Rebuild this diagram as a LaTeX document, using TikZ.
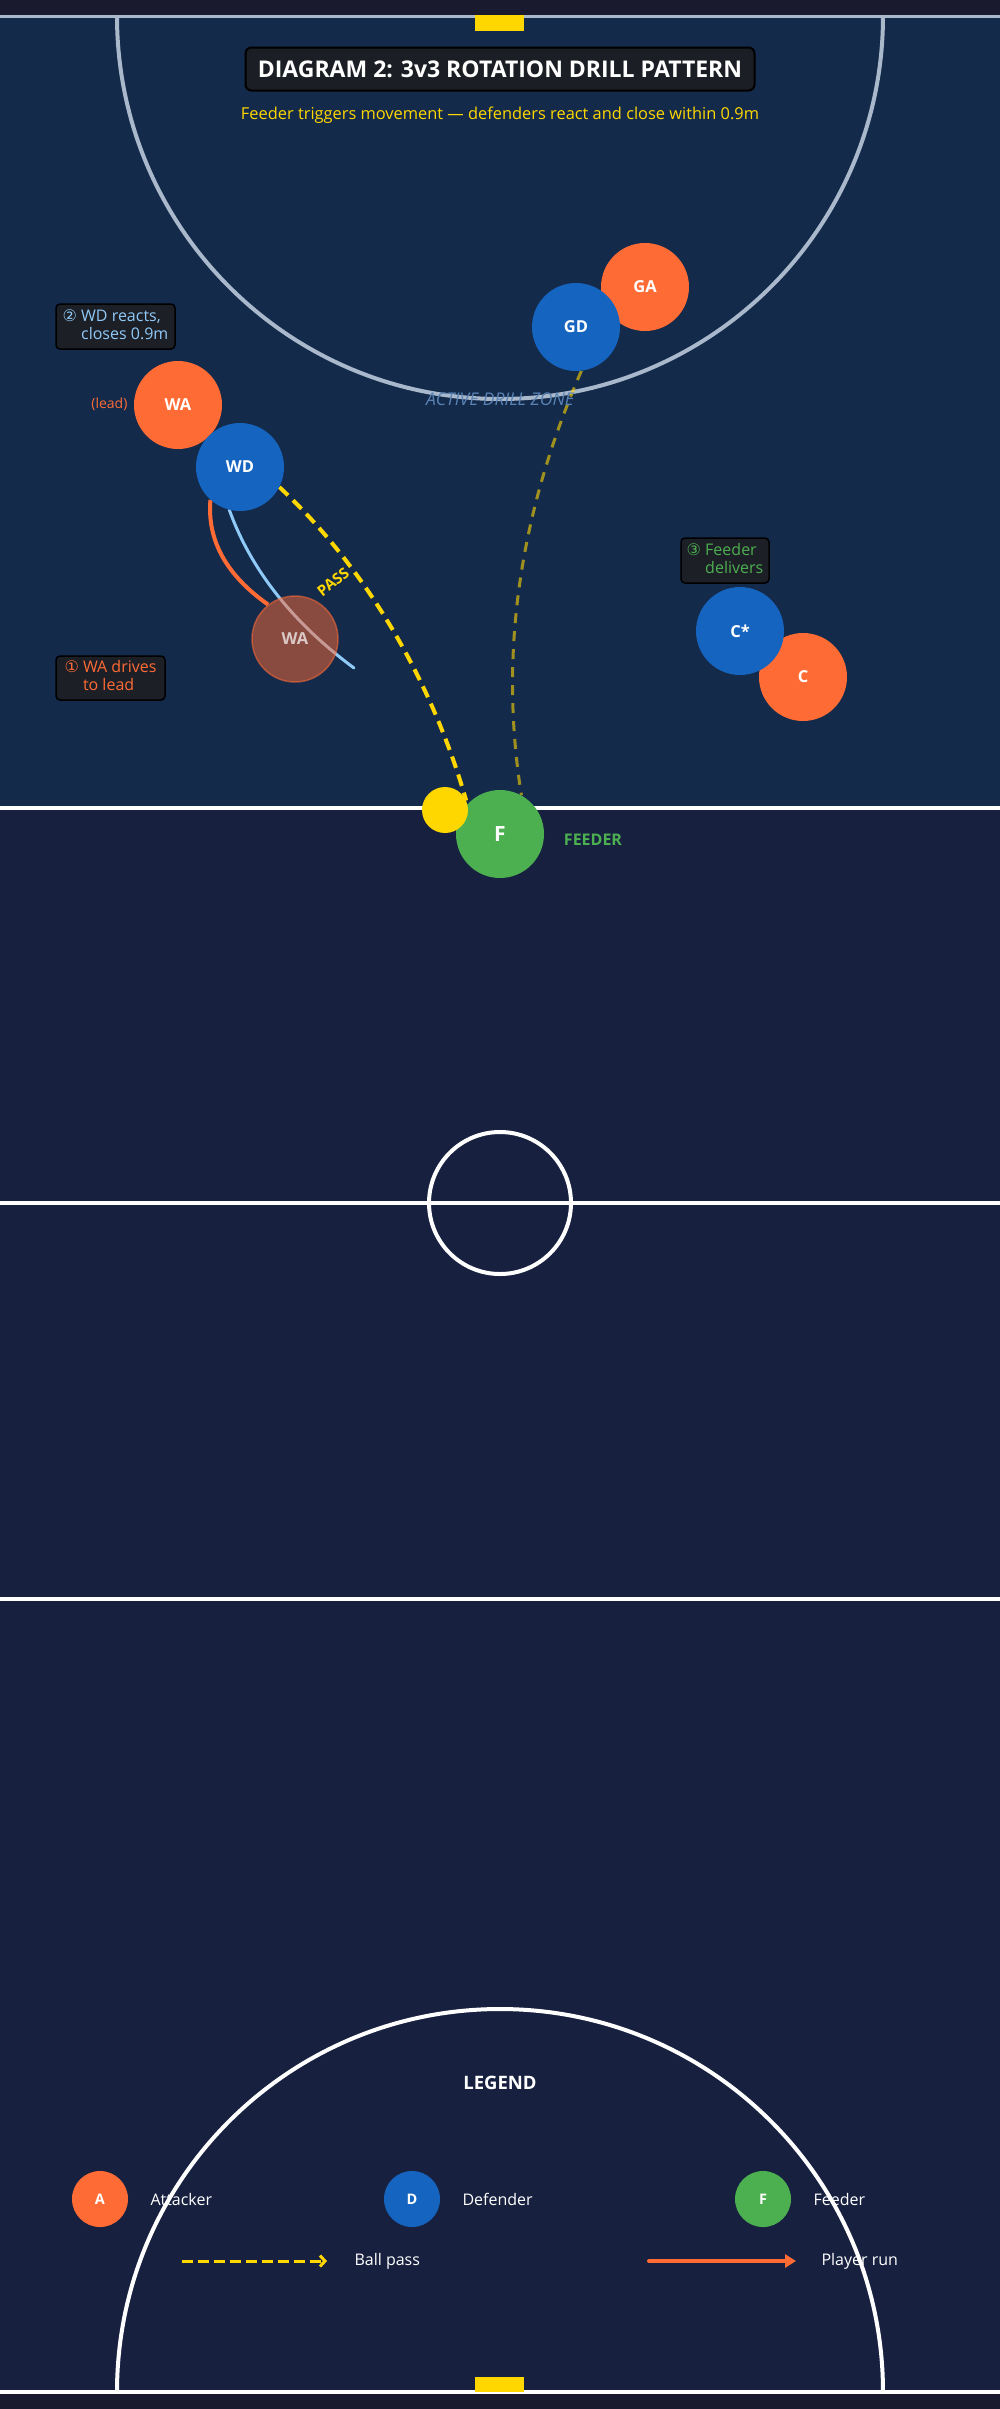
\documentclass[tikz,border=0pt]{standalone}
\usepackage{fontspec}
\IfFontExistsTF{Noto Sans Bold}{%
  \setmainfont{Noto Sans}[BoldFont={Noto Sans Bold}, ItalicFont={Noto Sans Italic}]%
}{%
  \IfFontExistsTF{Open Sans Bold}{%
    \setmainfont{Open Sans}[BoldFont={Open Sans Bold}, ItalicFont={Open Sans Italic}]%
  }{%
    \setmainfont{Noto Sans}[BoldFont={Noto Sans}, BoldFeatures={FakeBold=2.5}, ItalicFont={Noto Sans}, ItalicFeatures={FakeSlant=0.2}]%
  }%
}
\newfontfamily\symf{DejaVu Sans}
\usetikzlibrary{arrows.meta}
\definecolor{pgbg}{HTML}{1A1A2E}
\definecolor{court}{HTML}{17213F}
\definecolor{zone}{HTML}{132A4B}
\definecolor{topline}{HTML}{A9B8CB}
\definecolor{orng}{HTML}{FF6B35}
\definecolor{blu}{HTML}{1565C0}
\definecolor{grn}{HTML}{4CAF50}
\definecolor{ylw}{HTML}{FFD700}
\definecolor{lblu}{HTML}{90CAF9}
\definecolor{notebg}{HTML}{1C1F26}
\definecolor{titlebg}{HTML}{1B1E24}
\definecolor{zonetxt}{HTML}{5A83B3}
\newcommand\fs[2]{\fontsize{#1}{#2}\selectfont}
\pgfdeclarelayer{back}\pgfdeclarelayer{paths}\pgfsetlayers{back,paths,main}
\begin{document}
\begin{tikzpicture}[x=1pt,y=-1pt,
  player/.style={circle, minimum size=88pt, inner sep=0pt, text=white, font=\fs{16.5}{18}\bfseries},
  att/.style={player, fill=orng},
  dfd/.style={player, fill=blu},
  keydot/.style={circle, minimum size=56pt, inner sep=0pt, text=white, font=\fs{14.5}{16}\bfseries},
  notebox/.style={draw=black, line width=1.5pt, fill=notebg, rounded corners=4pt, inner sep=0pt, font=\fs{16}{18}},
  courtline/.style={draw=white, line width=4pt},
  keytext/.style={anchor=west, text=white, font=\fs{16}{18}},
]
\useasboundingbox (0,0) rectangle (1000,2409);
\begin{pgfonlayer}{back}
\fill[pgbg] (0,0) rectangle (1000,2409);
\fill[court] (0,15) rectangle (1000,2392);
\fill[zone] (0,15) rectangle (1000,808);
\draw[topline, line width=3pt] (0,16) -- (1000,16);
\draw[courtline] (0,808) -- (1000,808);
\draw[courtline] (0,1203) -- (1000,1203);
\draw[courtline] (0,1599) -- (1000,1599);
\draw[courtline, line width=3.5pt] (0,2392) -- (1000,2392);
\draw[topline, line width=4pt] (117,16) arc[start angle=180, end angle=360, radius=383pt];
\draw[courtline] (500,1203) circle[radius=71pt];
\fill[ylw] (475,15) rectangle (524,31);
\fill[ylw] (475,2377) rectangle (524,2392);
\end{pgfonlayer}

\node[font=\fs{17.5}{20}\itshape, text=zonetxt] (zonelbl) at (500,399) {ACTIVE DRILL ZONE};

\node[fill=titlebg, draw=black, line width=2pt, rounded corners=6pt, minimum width=509pt, minimum height=43pt, inner sep=0pt, text=white, font=\fs{23}{26}\bfseries] (title) at (500,69) {DIAGRAM 2: 3v3 ROTATION DRILL PATTERN};
\node[anchor=base, text=ylw, font=\fs{16.4}{18}] (subtitle) at (500,119.5) {Feeder triggers movement — defenders react and close within 0.9m};

% players
\node[att] (GA) at (645,287) {GA};
\node[dfd] (GD) at (576,327) {GD};
\node[att] (WAlead) at (178,405) {WA};
\node[dfd] (WD) at (240,467) {WD};
\node[att] (C) at (803,677) {C};
\node[dfd] (Cs) at (740,631) {C*};
\node[player, minimum size=86pt, fill=orng, fill opacity=0.5, draw=orng, draw opacity=0.55, line width=1.5pt, text opacity=0.7] (WAghost) at (295,639) {WA};
\node[player, fill=grn, font=\fs{21}{24}\bfseries] (F) at (500,834) {F};
\node[circle, fill=ylw, minimum size=46pt, inner sep=0pt] (ball) at (445,810) {};
\node[font=\fs{16}{18}\bfseries, text=grn] (feederlbl) at (593,840) {FEEDER};
\node[anchor=east, font=\fs{14}{16}, text=orng] (leadlbl) at (131,404) {(lead)};
\node[font=\fs{15}{16}\bfseries, text=ylw, rotate=38, inner sep=1pt] (passlbl) at (333,582) {PASS};

% notes
\node[notebox, minimum width=119pt, minimum height=45pt, text=lblu] (n2) at (115.5,326.5) {{\symf ②} \begin{tabular}[t]{@{}l@{}}WD reacts,\\closes 0.9m\end{tabular}};
\node[notebox, minimum width=109pt, minimum height=44pt, text=orng] (n1) at (110.5,678) {{\symf ①} \begin{tabular}[t]{@{}l@{}}WA drives\\to lead\end{tabular}};
\node[notebox, minimum width=88pt, minimum height=45pt, text=grn] (n3) at (725,560.5) {{\symf ③} \begin{tabular}[t]{@{}l@{}}Feeder\\delivers\end{tabular}};

% movement paths
\coordinate (wdend) at (354,668);
\begin{pgfonlayer}{paths}
\draw[lblu, line width=3pt, line cap=round] (WD.256) .. controls (251,570) and (293,623) .. (wdend);
\draw[orng, line width=4pt] (WAghost.128) .. controls (226,575) and (207,540) .. (WD.228);
\draw[ylw, line width=4pt, dash pattern=on 12pt off 7pt] (WD.333) .. controls (364,566) and (431,678) .. (ball.24);
\draw[ylw, draw opacity=0.6, line width=3pt, dash pattern=on 10pt off 8pt] (GD.277) .. controls (519,514) and (499,655) .. (F.61);
\end{pgfonlayer}

% legend
\node[font=\fs{18.5}{20}\bfseries, text=white] (legendttl) at (500,2083) {LEGEND};
\node[keydot, fill=orng] (keyA) at (100,2199) {A};
\node[keytext] (keyAt) at (147,2199) {Attacker};
\node[keydot, fill=blu] (keyD) at (412,2199) {D};
\node[keytext] (keyDt) at (459,2199) {Defender};
\node[keydot, fill=grn] (keyF) at (763,2199) {F};
\node[keytext] (keyFt) at (810,2199) {Feeder};
\coordinate (bp1) at (182,2261);
\coordinate (bp2) at (327,2261);
\draw[ylw, line width=3pt, dash pattern=on 11pt off 5pt, -{Straight Barb[length=5pt,width=11pt]}] (bp1) -- (bp2);
\node[keytext] (bptxt) at (351,2261) {Ball pass};
\coordinate (pr1) at (649,2261);
\coordinate (pr2) at (796,2261);
\draw[orng, line width=4pt, line cap=round, -{Triangle[length=11pt,width=13pt]}] (pr1) -- (pr2);
\node[keytext] (prtxt) at (818,2261) {Player run};
\draw[courtline] (117,2392) arc[start angle=180, end angle=0, radius=383pt];
\end{tikzpicture}
\end{document}
